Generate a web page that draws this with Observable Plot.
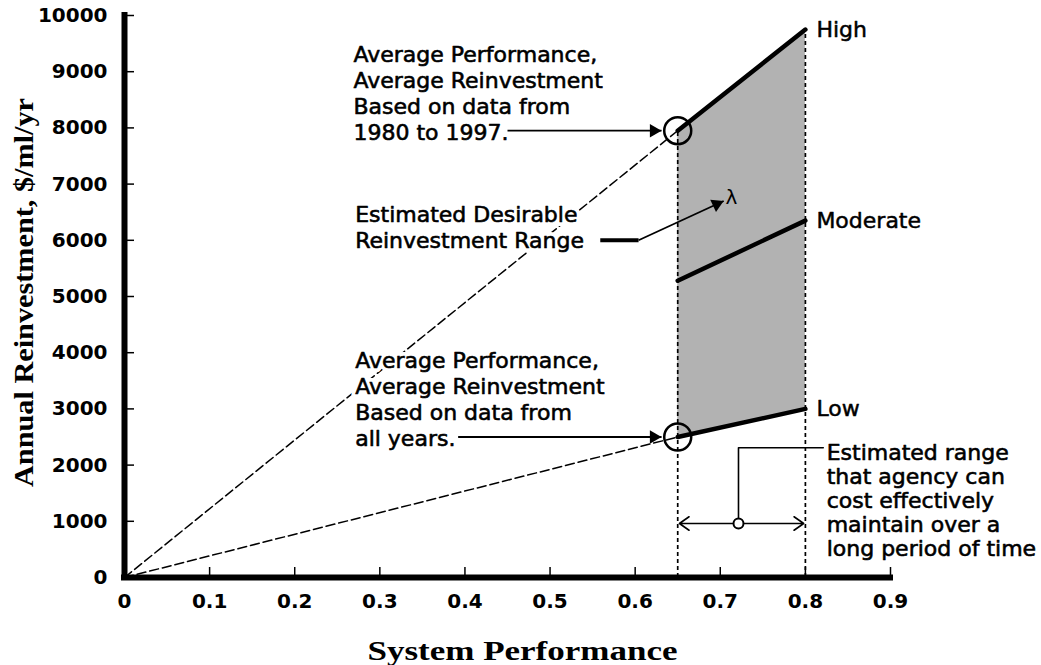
<!DOCTYPE html>
<html>
<head>
<meta charset="utf-8">
<script src="https://cdn.jsdelivr.net/npm/d3@7"></script>
<script src="https://cdn.jsdelivr.net/npm/@observablehq/plot@0.6"></script>
<style>
  body { margin: 0; background: #ffffff; }
  #chart svg { display: block; }
</style>
</head>
<body>
<div id="chart"></div>
<script>
// ---- data ----
const xTicks = [0, 0.1, 0.2, 0.3, 0.4, 0.5, 0.6, 0.7, 0.8, 0.9];
const yTicks = [0, 1000, 2000, 3000, 4000, 5000, 6000, 7000, 8000, 9000, 10000];
const rangeX = [0.65, 0.8];            // system performance range
const highY = [7950, 9750];
const moderateY = [5280, 6350];
const lowY = [2500, 3000];
const levelNames = ["High", "Moderate", "Low"];
const xTitle = "System Performance";
const yTitle = "Annual Reinvestment, $/ml/yr";

// annotations
const noteTexts = [
  "Average Performance,\nAverage Reinvestment\nBased on data from\n1980 to 1997.",
  "Estimated Desirable\nReinvestment Range",
  "Average Performance,\nAverage Reinvestment\nBased on data from\nall years."
];
const noteX = [0.269, 0.271, 0.271];
const noteY = [8630, 6237, 3176];
const rangeNote = "Estimated range\nthat agency can\ncost effectively\nmaintain over a\nlong period of time";
const rangeNoteX = 0.825;
const rangeNoteY = 1370;
const arrowStartX = [0.45, 0.392];     // horizontal arrows to the circles
const arrowEndX = [0.631, 0.631];
const arrowY = [highY[0], lowY[0]];
const desirableLead = {x1: 0.559, x2: 0.604, y: 6000, tipX: 0.704, tipY: 6700};
const rangeMarkX = 0.7214;
const rangeMarkY = 961;
const rangeLeaderY = 2310;
const rangeLeaderEndX = 0.821;

// ---- derived tables ----
const levels = [highY, moderateY, lowY];
const lineData = levels.flatMap((ys, k) => rangeX.map((x, i) => ({name: levelNames[k], x, y: ys[i]})));
const labelData = levels.map((ys, k) => ({name: levelNames[k], x: rangeX[1], y: ys[1]}));
const areaData = rangeX.map((x, i) => ({x, low: lowY[i], high: highY[i]}));
const originLines = [
  {id: "a", x: 0, y: 0}, {id: "a", x: rangeX[0], y: highY[0]},
  {id: "b", x: 0, y: 0}, {id: "b", x: rangeX[0], y: lowY[0]}
];
const edgeRules = [{x: rangeX[0], y: highY[0]}, {x: rangeX[1], y: highY[1]}];
const avgPoints = [{x: rangeX[0], y: highY[0]}, {x: rangeX[0], y: lowY[0]}];
const hArrows = arrowStartX.map((x1, i) => ({x1, x2: arrowEndX[i], y: arrowY[i]}));
const notes = noteTexts.map((t, i) => ({t, x: noteX[i], y: noteY[i]}));
const leader = [
  {x: rangeMarkX, y: rangeMarkY}, {x: rangeMarkX, y: rangeLeaderY}, {x: rangeLeaderEndX, y: rangeLeaderY}
];
const dblArrows = [
  {x1: rangeMarkX, x2: rangeX[0] + 0.002, y: rangeMarkY},
  {x1: rangeMarkX, x2: rangeX[1] - 0.002, y: rangeMarkY}
];

const ang = 25.2; // slope of desirable-range pointer (degrees, screen)
const tipOff = 7.8;

const textFont = "DejaVu Sans";

const chart = Plot.plot({
  width: 1041,
  height: 665,
  marginLeft: 124,
  marginRight: 151,
  marginTop: 15,
  marginBottom: 88,
  x: {domain: [0, 0.9]},
  y: {domain: [0, 10000]},
  style: {fontFamily: textFont, background: "#ffffff", color: "#000"},
  marks: [
    // shaded desirable range
    Plot.areaY(areaData, {x: "x", y1: "low", y2: "high", fill: "#b2b2b2"}),
    // dashed lines from origin
    Plot.line(originLines, {x: "x", y: "y", z: "id", stroke: "#000", strokeWidth: 1.5, strokeDasharray: "9,4"}),
    // vertical dashed edges
    Plot.ruleX(edgeRules, {x: "x", y1: 0, y2: "y", stroke: "#000", strokeWidth: 1.7, strokeDasharray: "4,3"}),
    // level lines
    Plot.line(lineData, {x: "x", y: "y", z: "name", stroke: "#000", strokeWidth: 4.5}),
    Plot.text(labelData, {x: "x", y: "y", text: "name", dx: 11, textAnchor: "start", fontSize: 22, fontFamily: textFont,
      fill: "#000", stroke: "#000", strokeWidth: 0.5}),
    // average circles
    Plot.dot(avgPoints, {x: "x", y: "y", r: 13.5, stroke: "#000", strokeWidth: 2.5, fill: "none"}),
    // text halos then text
    Plot.text(notes, {x: "x", y: "y", text: "t", textAnchor: "start", lineAnchor: "middle", lineHeight: 1.18,
      fontSize: 22, fontFamily: textFont, fill: "#fff", stroke: "#fff", strokeWidth: 8}),
    Plot.text(notes, {x: "x", y: "y", text: "t", textAnchor: "start", lineAnchor: "middle", lineHeight: 1.18,
      fontSize: 22, fontFamily: textFont, fill: "#000", stroke: "#000", strokeWidth: 0.6}),
    Plot.text([rangeNote], {x: rangeNoteX, y: rangeNoteY, text: d => d, textAnchor: "start", lineAnchor: "middle", lineHeight: 1.09,
      fontSize: 22, fontFamily: textFont, fill: "#000", stroke: "#000", strokeWidth: 0.6}),
    // horizontal pointer arrows
    Plot.link(hArrows, {x1: "x1", x2: "x2", y1: "y", y2: "y", stroke: "#000", strokeWidth: 1.8}),
    Plot.dot(hArrows, {x: "x2", y: "y", symbol: "triangle", r: 5, rotate: 90, dx: -tipOff, fill: "#000", stroke: "none"}),
    // desirable range pointer
    Plot.link([desirableLead], {x1: "x1", x2: "x2", y1: "y", y2: "y", stroke: "#000", strokeWidth: 4}),
    Plot.link([desirableLead], {x1: "x2", y1: "y", x2: "tipX", y2: "tipY", stroke: "#000", strokeWidth: 1.8}),
    Plot.dot([desirableLead], {x: "tipX", y: "tipY", symbol: "triangle", r: 5, rotate: 90 - ang,
      dx: -tipOff * Math.cos(ang * Math.PI / 180), dy: tipOff * Math.sin(ang * Math.PI / 180), fill: "#000", stroke: "none"}),
    Plot.text(["λ"], {x: 0.713, y: 6762, text: d => d, fontSize: 20, fontFamily: textFont, fill: "#000"}),
    // range bracket
    Plot.line(leader, {x: "x", y: "y", stroke: "#000", strokeWidth: 1.6}),
    Plot.arrow(dblArrows, {x1: "x1", x2: "x2", y1: "y", y2: "y", stroke: "#000", strokeWidth: 1.6, headLength: 11, headAngle: 70}),
    Plot.dot([{x: rangeMarkX, y: rangeMarkY}], {x: "x", y: "y", r: 5, stroke: "#000", strokeWidth: 2, fill: "#fff"}),
    // axes: ticks inward
    Plot.axisY({ticks: yTicks, tickSize: 10, dx: 10, tickFormat: () => "", label: null, stroke: "#000", strokeWidth: 1.5}),
    Plot.axisX({ticks: xTicks, tickSize: 10, dy: -10, tickFormat: () => "", label: null, stroke: "#000", strokeWidth: 1.5}),
    Plot.axisY({ticks: yTicks, tickSize: 0, tickPadding: 17, tickFormat: d => String(d), label: null,
      fontSize: 20, fontWeight: "bold", fontFamily: textFont}),
    Plot.axisX({ticks: xTicks, tickSize: 0, tickPadding: 16, tickFormat: d => String(d), label: null,
      fontSize: 20, fontWeight: "bold", fontFamily: textFont}),
    // spines
    Plot.ruleX([0], {stroke: "#000", strokeWidth: 6, strokeLinecap: "square"}),
    Plot.ruleY([0], {stroke: "#000", strokeWidth: 6, strokeLinecap: "square"}),
    // axis titles
    Plot.text([yTitle], {frameAnchor: "left", text: d => d, rotate: -90, dx: -100, dy: -4,
      textAnchor: "middle", lineAnchor: "middle",
      fontSize: 28, fontWeight: "bold", fontFamily: "Liberation Serif", fill: "#000"}),
    Plot.text([xTitle], {frameAnchor: "bottom", text: d => d, dx: 15, dy: 82,
      textAnchor: "middle", lineAnchor: "bottom",
      fontSize: 28, fontWeight: "bold", fontFamily: "Liberation Serif", fill: "#000"})
  ]
});

document.getElementById("chart").appendChild(chart);

// stretch the serif axis titles to the reference widths
d3.select(chart).selectAll("text")
  .filter(function() { return this.textContent === yTitle; })
  .attr("textLength", 389).attr("lengthAdjust", "spacingAndGlyphs");
d3.select(chart).selectAll("text")
  .filter(function() { return this.textContent === xTitle; })
  .attr("textLength", 310).attr("lengthAdjust", "spacingAndGlyphs");
</script>
</body>
</html>
